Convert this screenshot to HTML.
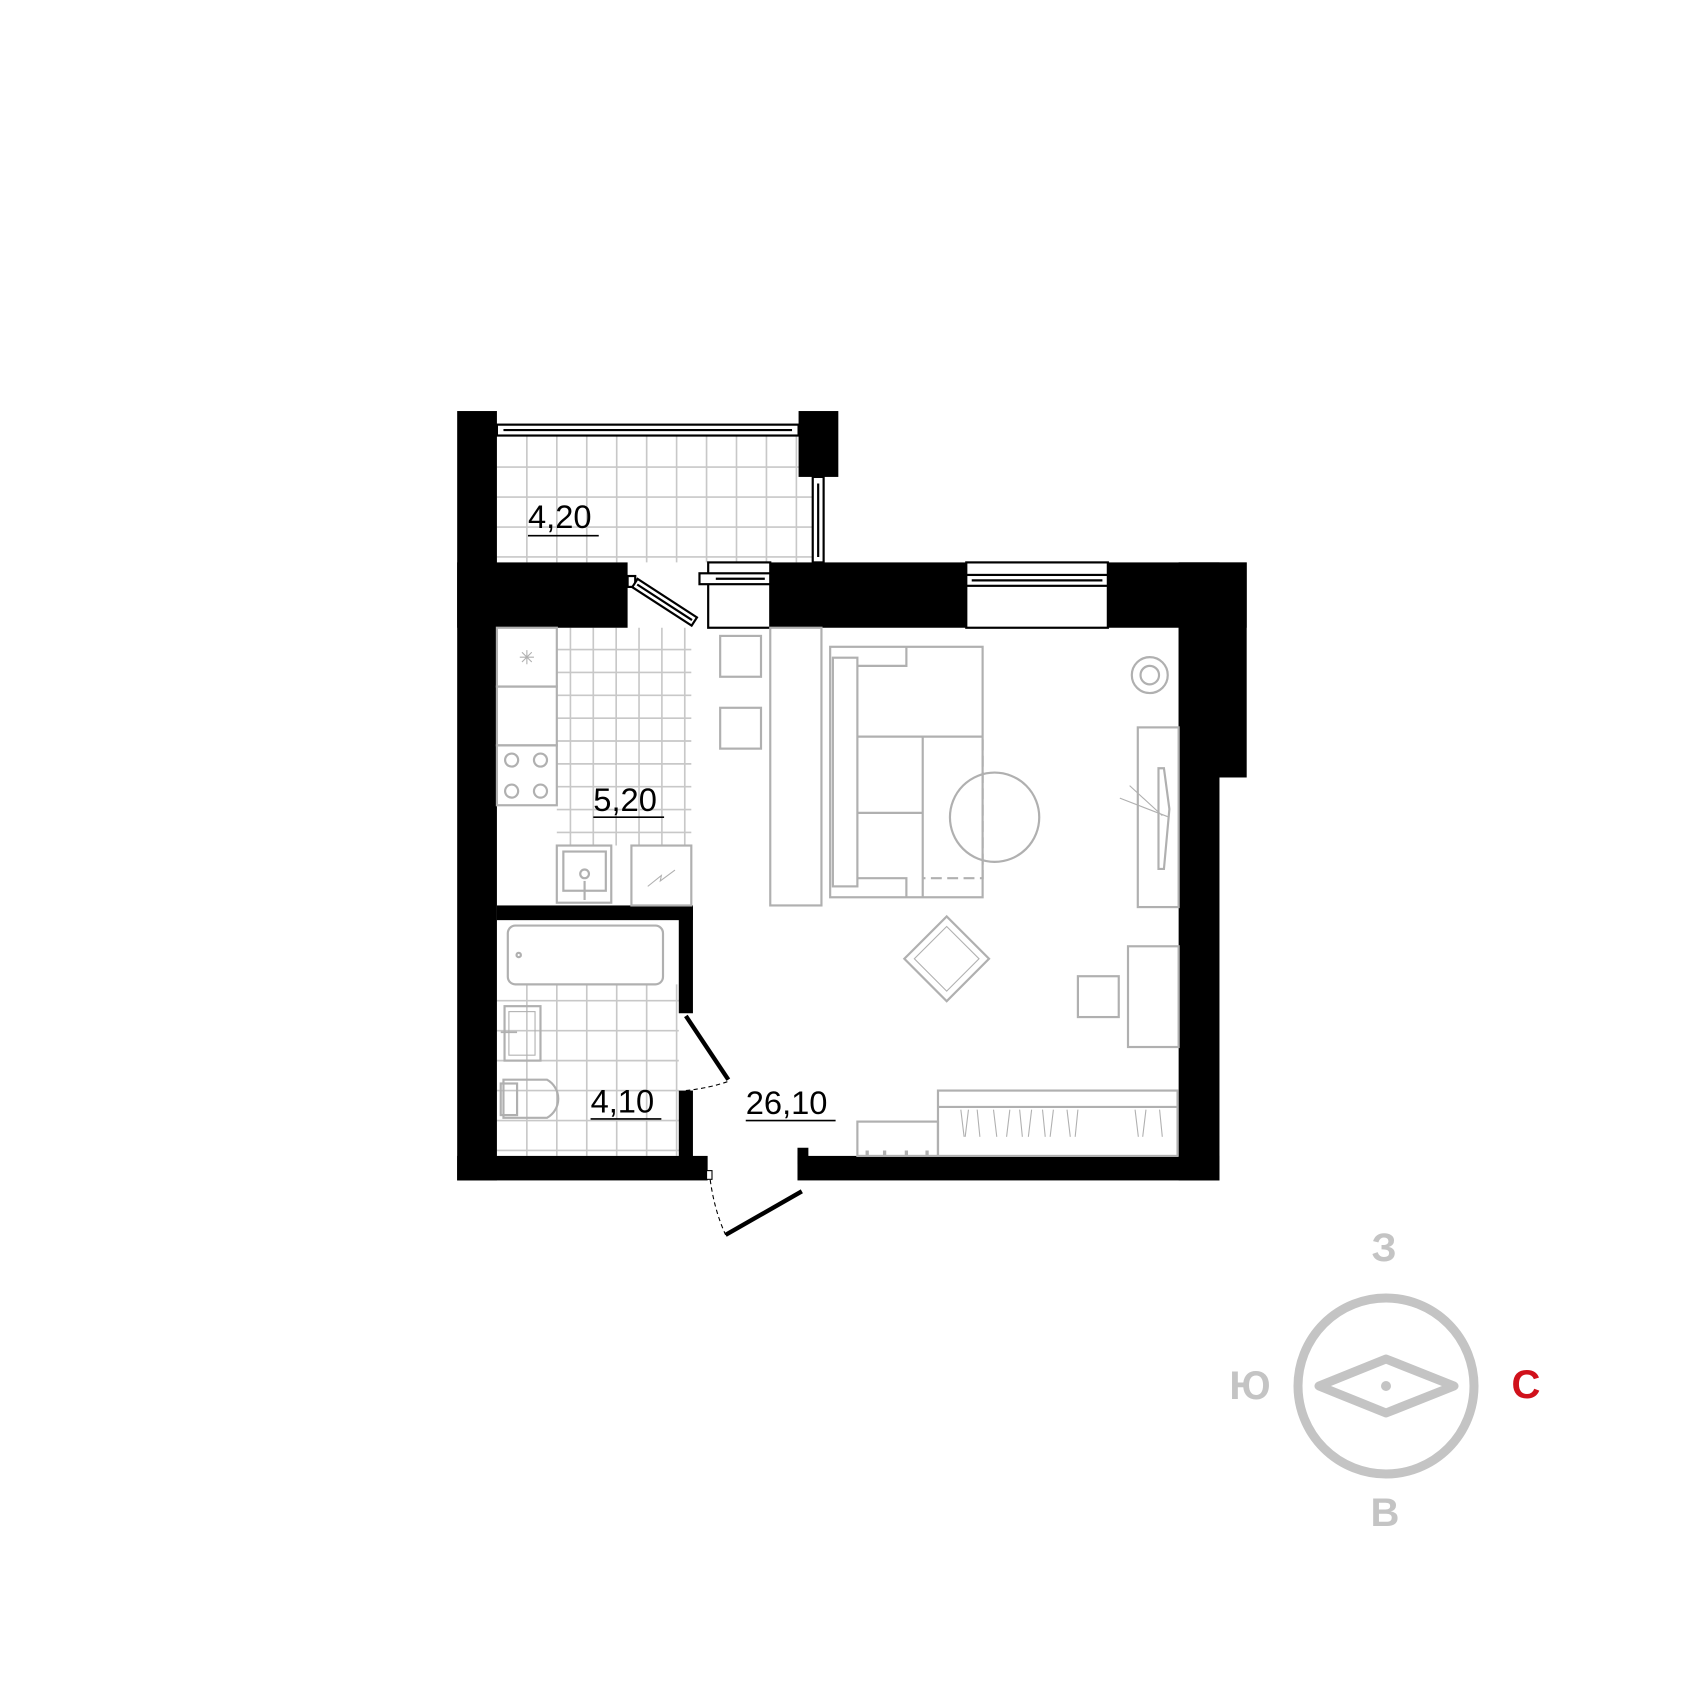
<!DOCTYPE html>
<html><head><meta charset="utf-8"><style>html,body{margin:0;padding:0;background:#fff}svg{display:block}</style></head>
<body>
<svg width="1700" height="1700" viewBox="0 0 1700 1700" xmlns="http://www.w3.org/2000/svg">
<g transform="translate(400 380) scale(0.5445)">
<g stroke="#c8c8c8" stroke-width="3" fill="none">
<path d="M233 100V335M288 100V335M343 100V335M398 100V335M453 100V335M508 100V335M563 100V335M618 100V335M673 100V335M728 100V335M178 160H758M178 215H758M178 270H758M178 325H758"/>
<path d="M313 455V855M355 455V855M397 455V855M439 455V855M481 455V855M523 455V855M288 495H535M288 537H535M288 579H535M288 621H535M288 663H535M288 705H535M288 747H535M288 789H535M288 831H535"/>
<path d="M233 1110V1425M288 1110V1425M343 1110V1425M398 1110V1425M453 1110V1425M508 1110V1425M178 1140H512M178 1195H512M178 1250H512M178 1305H512M178 1360H512M178 1415H512"/>
</g>
<g fill="#000">
<rect x="105" y="57" width="73" height="1413"/>
<rect x="105" y="335" width="313" height="120"/>
<rect x="732" y="57" width="73" height="121"/>
<rect x="680" y="335" width="360" height="120"/>
<rect x="1290" y="335" width="265" height="120"/>
<rect x="1430" y="335" width="125" height="395"/>
<rect x="1430" y="335" width="75" height="1135"/>
<rect x="105" y="1425" width="460" height="45"/>
<rect x="730" y="1425" width="775" height="45"/>
<rect x="730" y="1410" width="20" height="30"/>
<rect x="178" y="965" width="360" height="27"/>
<rect x="512" y="965" width="26" height="198"/>
<rect x="512" y="1305" width="26" height="125"/>
</g>
<g fill="#fff" stroke="#000" stroke-width="4">
<rect x="178" y="82" width="554" height="20"/>
<line x1="190" y1="92" x2="720" y2="92"/>
<rect x="758" y="178" width="20" height="157"/>
<line x1="768" y1="190" x2="768" y2="325"/>
<rect x="566" y="335" width="114" height="120"/>
<rect x="550" y="355" width="130" height="20"/>
<line x1="580" y1="365" x2="670" y2="365"/>
<rect x="1040" y="335" width="260" height="120"/>
<rect x="1040" y="358" width="260" height="20"/>
<line x1="1050" y1="368" x2="1290" y2="368"/>
<rect x="418" y="360" width="14" height="20"/>
<g transform="translate(432 372) rotate(33)"><rect x="0" y="-8" width="130" height="18"/><line x1="5" y1="1" x2="125" y2="1"/></g>
</g>
<g stroke="#000" stroke-width="8" fill="none">
<line x1="525" y1="1168" x2="603" y2="1285"/>
<line x1="598" y1="1570" x2="738" y2="1490"/>
</g>
<g stroke="#000" stroke-width="2" fill="none" stroke-dasharray="8 6">
<path d="M525 1305 Q570 1300 603 1288"/>
<path d="M568 1455 Q575 1520 598 1570"/>
</g>
<rect x="563" y="1452" width="10" height="16" fill="#fff" stroke="#000" stroke-width="2"/>
<g stroke="#b0b0b0" stroke-width="4" fill="none">
<rect x="178" y="455" width="110" height="108"/>
<path d="M220 509L246 509M233 496L233 522M224 500L242 518M242 500L224 518" stroke-width="2"/>
<rect x="178" y="563" width="110" height="108"/>
<rect x="178" y="671" width="110" height="110"/>
<circle cx="205" cy="698" r="12"/><circle cx="258" cy="698" r="12"/>
<circle cx="205" cy="755" r="12"/><circle cx="258" cy="755" r="12"/>
<rect x="288" y="855" width="100" height="105"/>
<rect x="300" y="866" width="78" height="72"/>
<circle cx="339" cy="907" r="8"/><line x1="339" y1="920" x2="339" y2="955"/>
<rect x="425" y="855" width="110" height="110"/>
<path d="M455 930L480 910L478 920L505 900" stroke-width="2"/>
<rect x="588" y="470" width="75" height="75"/>
<rect x="588" y="602" width="75" height="75"/>
<rect x="680" y="455" width="94" height="510"/>
<rect x="790" y="490" width="280" height="460"/>
<path d="M930 490V525H840"/>
<rect x="795" y="510" width="45" height="420"/>
<path d="M840 655H1070M960 655V950M840 795H960M840 915H930V950"/>
<circle cx="1092" cy="803" r="82"/>
<path d="M1070 660V915H960" stroke-dasharray="20 10"/>
<g transform="translate(1004 1063) rotate(45)"><rect x="-55" y="-55" width="110" height="110"/><rect x="-42" y="-42" width="84" height="84" stroke-width="2"/></g>
<circle cx="1377" cy="542" r="33"/><circle cx="1377" cy="542" r="17"/>
<rect x="1355" y="638" width="75" height="330"/>
<path d="M1393 713h10l10 75l-10 110h-10z"/>
<path d="M1322 768L1410 802M1340 745L1400 800" stroke-width="2"/>
<rect x="1337" y="1040" width="93" height="185"/>
<rect x="1245" y="1095" width="75" height="75"/>
<rect x="988" y="1305" width="440" height="120"/>
<path d="M988 1335H1428"/>
<rect x="840" y="1362" width="148" height="63"/>
<path d="M858 1415V1425M890 1415V1425M930 1415V1425M968 1415V1425" stroke-width="6"/>
<path d="M1030 1340l6 50M1044 1340l-6 50M1060 1340l5 50M1090 1340l6 50M1120 1340l-6 50M1138 1340l5 50M1160 1340l-6 50M1180 1340l5 50M1200 1340l-6 50M1225 1340l6 50M1245 1340l-5 50M1350 1340l6 50M1370 1340l-6 50M1395 1340l5 50" stroke-width="2"/>
<rect x="198" y="1002" width="285" height="108" rx="14"/>
<circle cx="218" cy="1056" r="4"/>
<rect x="192" y="1150" width="66" height="100"/>
<rect x="200" y="1160" width="48" height="80" stroke-width="2"/>
<path d="M185 1198h30" stroke-width="3"/>
<path d="M190 1285H270A40 40 0 0 1 270 1355H190Z"/>
<rect x="185" y="1292" width="30" height="58"/>
</g>
<g font-family="'Liberation Sans', sans-serif" font-size="60" fill="#000">
<text x="235" y="272">4,20</text><line x1="235" y1="286" x2="365" y2="286" stroke="#000" stroke-width="3"/>
<text x="355" y="792">5,20</text><line x1="355" y1="803" x2="485" y2="803" stroke="#000" stroke-width="3"/>
<text x="350" y="1345">4,10</text><line x1="350" y1="1357" x2="480" y2="1357" stroke="#000" stroke-width="3"/>
<text x="635" y="1348">26,10</text><line x1="635" y1="1360" x2="800" y2="1360" stroke="#000" stroke-width="3"/>
</g>
</g>
<circle cx="1386" cy="1386" r="88" fill="none" stroke="#c4c4c4" stroke-width="9"/>
<path d="M1319 1386L1386 1359L1454 1386L1386 1413Z" fill="none" stroke="#c4c4c4" stroke-width="9" stroke-linejoin="round"/>
<circle cx="1386" cy="1386" r="5" fill="#c4c4c4"/>
<g font-family="'Liberation Sans', sans-serif" font-weight="bold" font-size="40" text-anchor="middle" fill="#c4c4c4">
<text x="1384" y="1261">З</text>
<text x="1250" y="1399">Ю</text>
<text x="1526" y="1398" fill="#d0111b">С</text>
<text x="1385" y="1526">В</text>
</g>
</svg>
</body></html>
